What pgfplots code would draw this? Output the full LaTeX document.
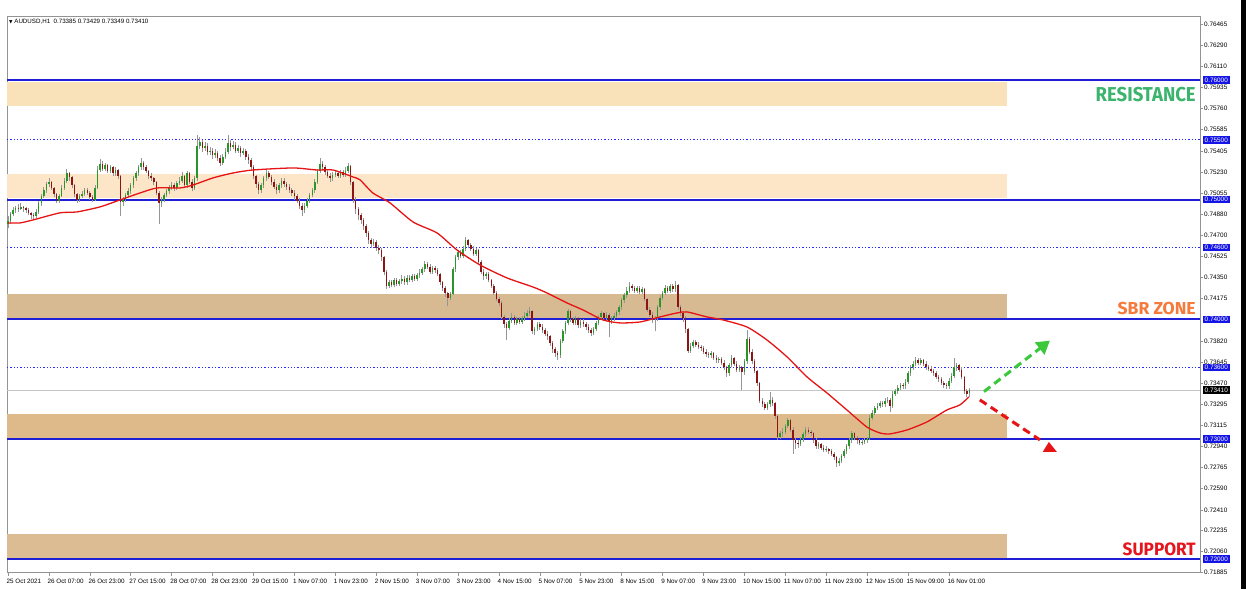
\documentclass[border=0pt]{standalone}
\usepackage{pgfplots}
\pgfplotsset{compat=1.18}
\usepackage{pgfplotstable}
\usepackage{graphicx}
\usepackage{fontspec}
\setmainfont{Liberation Sans}
\newfontfamily\labfont{Fira Sans}
\newfontfamily\symfont{DejaVu Sans}
\usetikzlibrary{arrows.meta}

\definecolor{upc}{RGB}{40,150,40}
\definecolor{dnc}{RGB}{140,20,20}
\definecolor{wick}{RGB}{150,150,150}
\definecolor{zoneA}{RGB}{249,226,186}
\definecolor{zoneB}{RGB}{253,229,199}
\definecolor{zoneC}{RGB}{215,185,146}
\definecolor{zoneD}{RGB}{222,186,139}
\definecolor{zoneE}{RGB}{220,188,147}
\definecolor{lineblue}{RGB}{30,30,215}
\definecolor{dotblue}{RGB}{40,40,255}
\definecolor{boxblue}{RGB}{20,20,230}
\definecolor{resg}{RGB}{60,180,110}
\definecolor{sbro}{RGB}{245,122,60}
\definecolor{supr}{RGB}{230,20,28}
\definecolor{arrg}{RGB}{60,200,60}
\definecolor{arrr}{RGB}{230,20,20}
\definecolor{maline}{RGB}{230,20,20}

\pgfplotstableread{
o h l c
0.7480 0.7486 0.7476 0.7482
0.7482 0.7490 0.7480 0.7488
0.7488 0.7494 0.7486 0.7491
0.7491 0.7495 0.7489 0.7493
0.7493 0.7496 0.7490 0.7492
0.7492 0.7497 0.7491 0.7494
0.7494 0.7495 0.7490 0.7493
0.7493 0.7494 0.7489 0.7491
0.7491 0.7493 0.7487 0.7489
0.7489 0.7490 0.7484 0.7487
0.7487 0.7489 0.7483 0.7486
0.7486 0.7492 0.7485 0.7490
0.7490 0.7499 0.7488 0.7497
0.7497 0.7505 0.7495 0.7503
0.7503 0.7511 0.7501 0.7508
0.7508 0.7515 0.7506 0.7513
0.7513 0.7518 0.7511 0.7515
0.7515 0.7516 0.7508 0.7510
0.7510 0.7511 0.7502 0.7505
0.7505 0.7506 0.7497 0.7499
0.7499 0.7505 0.7497 0.7503
0.7503 0.7512 0.7502 0.7510
0.7510 0.7518 0.7508 0.7516
0.7516 0.7526 0.7514 0.7522
0.7522 0.7523 0.7516 0.7519
0.7519 0.7520 0.7510 0.7512
0.7512 0.7513 0.7502 0.7505
0.7505 0.7506 0.7497 0.7500
0.7500 0.7505 0.7498 0.7503
0.7503 0.7507 0.7501 0.7505
0.7505 0.7510 0.7503 0.7508
0.7508 0.7510 0.7504 0.7506
0.7506 0.7507 0.7500 0.7502
0.7502 0.7504 0.7498 0.7500
0.7500 0.7512 0.7499 0.7510
0.7510 0.7528 0.7509 0.7525
0.7525 0.7534 0.7523 0.7530
0.7530 0.7532 0.7524 0.7526
0.7526 0.7531 0.7524 0.7529
0.7529 0.7530 0.7522 0.7524
0.7524 0.7529 0.7522 0.7527
0.7527 0.7528 0.7520 0.7522
0.7522 0.7527 0.7520 0.7525
0.7525 0.7526 0.7517 0.7520
0.7520 0.7521 0.7486 0.7498
0.7498 0.7502 0.7495 0.7500
0.7500 0.7506 0.7498 0.7504
0.7504 0.7510 0.7502 0.7507
0.7507 0.7514 0.7505 0.7512
0.7512 0.7520 0.7510 0.7518
0.7518 0.7524 0.7516 0.7522
0.7522 0.7529 0.7520 0.7527
0.7527 0.7535 0.7525 0.7531
0.7531 0.7532 0.7525 0.7527
0.7527 0.7529 0.7522 0.7524
0.7524 0.7525 0.7517 0.7520
0.7520 0.7522 0.7516 0.7518
0.7518 0.7519 0.7512 0.7515
0.7515 0.7516 0.7504 0.7506
0.7506 0.7507 0.7480 0.7497
0.7497 0.7502 0.7494 0.7500
0.7500 0.7506 0.7498 0.7504
0.7504 0.7509 0.7502 0.7507
0.7507 0.7512 0.7505 0.7510
0.7510 0.7515 0.7508 0.7512
0.7512 0.7514 0.7507 0.7510
0.7510 0.7516 0.7508 0.7514
0.7514 0.7519 0.7512 0.7516
0.7516 0.7523 0.7514 0.7520
0.7520 0.7521 0.7510 0.7512
0.7512 0.7524 0.7510 0.7522
0.7522 0.7523 0.7513 0.7515
0.7515 0.7517 0.7507 0.7510
0.7510 0.7520 0.7508 0.7518
0.7518 0.7554 0.7516 0.7545
0.7545 0.7552 0.7542 0.7548
0.7548 0.7550 0.7540 0.7543
0.7543 0.7548 0.7541 0.7545
0.7545 0.7547 0.7537 0.7540
0.7540 0.7544 0.7537 0.7541
0.7541 0.7543 0.7534 0.7537
0.7537 0.7542 0.7535 0.7539
0.7539 0.7541 0.7532 0.7535
0.7535 0.7537 0.7528 0.7531
0.7531 0.7538 0.7529 0.7536
0.7536 0.7543 0.7534 0.7540
0.7540 0.7554 0.7538 0.7547
0.7547 0.7550 0.7541 0.7544
0.7544 0.7549 0.7542 0.7546
0.7546 0.7548 0.7539 0.7541
0.7541 0.7546 0.7539 0.7543
0.7543 0.7545 0.7536 0.7539
0.7539 0.7543 0.7537 0.7541
0.7541 0.7542 0.7533 0.7536
0.7536 0.7538 0.7530 0.7533
0.7533 0.7535 0.7524 0.7527
0.7527 0.7529 0.7517 0.7520
0.7520 0.7521 0.7510 0.7513
0.7513 0.7515 0.7505 0.7508
0.7508 0.7514 0.7506 0.7512
0.7512 0.7520 0.7510 0.7518
0.7518 0.7525 0.7516 0.7522
0.7522 0.7524 0.7517 0.7519
0.7519 0.7521 0.7512 0.7515
0.7515 0.7517 0.7509 0.7511
0.7511 0.7513 0.7505 0.7508
0.7508 0.7514 0.7506 0.7512
0.7512 0.7518 0.7510 0.7516
0.7516 0.7518 0.7511 0.7513
0.7513 0.7515 0.7508 0.7511
0.7511 0.7513 0.7506 0.7508
0.7508 0.7510 0.7503 0.7506
0.7506 0.7508 0.7500 0.7503
0.7503 0.7505 0.7497 0.7499
0.7499 0.7501 0.7492 0.7495
0.7495 0.7497 0.7486 0.7491
0.7491 0.7497 0.7489 0.7495
0.7495 0.7501 0.7493 0.7499
0.7499 0.7506 0.7497 0.7504
0.7504 0.7510 0.7502 0.7508
0.7508 0.7517 0.7506 0.7515
0.7515 0.7526 0.7513 0.7524
0.7524 0.7535 0.7522 0.7530
0.7530 0.7532 0.7525 0.7527
0.7527 0.7529 0.7521 0.7523
0.7523 0.7525 0.7518 0.7520
0.7520 0.7522 0.7515 0.7518
0.7518 0.7523 0.7516 0.7521
0.7521 0.7525 0.7519 0.7522
0.7522 0.7524 0.7518 0.7520
0.7520 0.7525 0.7518 0.7523
0.7523 0.7525 0.7519 0.7521
0.7521 0.7527 0.7519 0.7524
0.7524 0.7531 0.7522 0.7528
0.7528 0.7529 0.7512 0.7515
0.7515 0.7516 0.7497 0.7500
0.7500 0.7502 0.7488 0.7492
0.7492 0.7494 0.7483 0.7487
0.7487 0.7489 0.7480 0.7483
0.7483 0.7485 0.7475 0.7478
0.7478 0.7480 0.7469 0.7472
0.7472 0.7474 0.7463 0.7466
0.7466 0.7468 0.7460 0.7463
0.7463 0.7467 0.7461 0.7465
0.7465 0.7466 0.7457 0.7460
0.7460 0.7462 0.7455 0.7458
0.7458 0.7460 0.7449 0.7452
0.7452 0.7453 0.7437 0.7440
0.7440 0.7441 0.7425 0.7428
0.7428 0.7433 0.7426 0.7431
0.7431 0.7433 0.7427 0.7429
0.7429 0.7435 0.7427 0.7433
0.7433 0.7435 0.7428 0.7430
0.7430 0.7434 0.7428 0.7432
0.7432 0.7437 0.7430 0.7434
0.7434 0.7436 0.7429 0.7431
0.7431 0.7437 0.7429 0.7435
0.7435 0.7437 0.7431 0.7433
0.7433 0.7438 0.7431 0.7436
0.7436 0.7438 0.7432 0.7434
0.7434 0.7439 0.7432 0.7437
0.7437 0.7442 0.7435 0.7439
0.7439 0.7444 0.7437 0.7442
0.7442 0.7449 0.7440 0.7446
0.7446 0.7448 0.7442 0.7444
0.7444 0.7446 0.7438 0.7440
0.7440 0.7445 0.7438 0.7443
0.7443 0.7445 0.7439 0.7441
0.7441 0.7443 0.7436 0.7438
0.7438 0.7439 0.7429 0.7431
0.7431 0.7432 0.7424 0.7426
0.7426 0.7428 0.7419 0.7422
0.7422 0.7423 0.7411 0.7418
0.7418 0.7423 0.7416 0.7421
0.7421 0.7444 0.7420 0.7442
0.7442 0.7454 0.7440 0.7452
0.7452 0.7458 0.7450 0.7456
0.7456 0.7458 0.7451 0.7453
0.7453 0.7461 0.7451 0.7459
0.7459 0.7469 0.7457 0.7466
0.7466 0.7467 0.7460 0.7462
0.7462 0.7464 0.7457 0.7459
0.7459 0.7461 0.7453 0.7455
0.7455 0.7460 0.7453 0.7458
0.7458 0.7459 0.7446 0.7448
0.7448 0.7450 0.7438 0.7440
0.7440 0.7442 0.7433 0.7436
0.7436 0.7440 0.7434 0.7438
0.7438 0.7440 0.7431 0.7433
0.7433 0.7434 0.7426 0.7428
0.7428 0.7430 0.7420 0.7422
0.7422 0.7424 0.7415 0.7417
0.7417 0.7419 0.7411 0.7414
0.7414 0.7415 0.7400 0.7402
0.7402 0.7404 0.7393 0.7396
0.7396 0.7398 0.7383 0.7393
0.7393 0.7401 0.7391 0.7399
0.7399 0.7405 0.7397 0.7402
0.7402 0.7404 0.7395 0.7397
0.7397 0.7402 0.7395 0.7400
0.7400 0.7402 0.7396 0.7398
0.7398 0.7403 0.7396 0.7401
0.7401 0.7406 0.7399 0.7403
0.7403 0.7408 0.7401 0.7405
0.7405 0.7410 0.7403 0.7407
0.7407 0.7408 0.7388 0.7390
0.7390 0.7394 0.7387 0.7392
0.7392 0.7398 0.7390 0.7396
0.7396 0.7398 0.7391 0.7394
0.7394 0.7396 0.7389 0.7391
0.7391 0.7393 0.7386 0.7388
0.7388 0.7390 0.7383 0.7386
0.7386 0.7387 0.7378 0.7380
0.7380 0.7382 0.7372 0.7375
0.7375 0.7377 0.7369 0.7372
0.7372 0.7374 0.7366 0.7370
0.7370 0.7384 0.7368 0.7382
0.7382 0.7392 0.7380 0.7390
0.7390 0.7399 0.7388 0.7397
0.7397 0.7409 0.7395 0.7407
0.7407 0.7408 0.7398 0.7400
0.7400 0.7402 0.7395 0.7397
0.7397 0.7403 0.7395 0.7401
0.7401 0.7402 0.7393 0.7395
0.7395 0.7400 0.7393 0.7398
0.7398 0.7400 0.7394 0.7396
0.7396 0.7398 0.7391 0.7394
0.7394 0.7396 0.7389 0.7391
0.7391 0.7393 0.7386 0.7389
0.7389 0.7394 0.7387 0.7392
0.7392 0.7399 0.7390 0.7397
0.7397 0.7404 0.7395 0.7402
0.7402 0.7407 0.7400 0.7405
0.7405 0.7406 0.7399 0.7401
0.7401 0.7406 0.7399 0.7404
0.7404 0.7405 0.7385 0.7398
0.7398 0.7403 0.7396 0.7401
0.7401 0.7405 0.7399 0.7403
0.7403 0.7408 0.7401 0.7406
0.7406 0.7412 0.7404 0.7410
0.7410 0.7418 0.7408 0.7416
0.7416 0.7422 0.7414 0.7420
0.7420 0.7427 0.7418 0.7424
0.7424 0.7431 0.7422 0.7428
0.7428 0.7430 0.7424 0.7426
0.7426 0.7428 0.7422 0.7424
0.7424 0.7428 0.7422 0.7426
0.7426 0.7428 0.7421 0.7423
0.7423 0.7427 0.7421 0.7425
0.7425 0.7426 0.7415 0.7417
0.7417 0.7418 0.7406 0.7408
0.7408 0.7410 0.7402 0.7404
0.7404 0.7406 0.7397 0.7400
0.7400 0.7403 0.7390 0.7401
0.7401 0.7412 0.7399 0.7410
0.7410 0.7420 0.7408 0.7418
0.7418 0.7424 0.7416 0.7422
0.7422 0.7429 0.7420 0.7426
0.7426 0.7428 0.7422 0.7424
0.7424 0.7430 0.7422 0.7428
0.7428 0.7430 0.7423 0.7425
0.7425 0.7432 0.7423 0.7429
0.7429 0.7430 0.7408 0.7410
0.7410 0.7412 0.7403 0.7405
0.7405 0.7407 0.7398 0.7401
0.7401 0.7403 0.7389 0.7392
0.7392 0.7393 0.7372 0.7374
0.7374 0.7380 0.7372 0.7378
0.7378 0.7383 0.7376 0.7381
0.7381 0.7383 0.7377 0.7379
0.7379 0.7381 0.7375 0.7377
0.7377 0.7379 0.7374 0.7376
0.7376 0.7378 0.7371 0.7373
0.7373 0.7375 0.7369 0.7371
0.7371 0.7373 0.7368 0.7370
0.7370 0.7374 0.7368 0.7372
0.7372 0.7373 0.7366 0.7368
0.7368 0.7370 0.7364 0.7366
0.7366 0.7369 0.7364 0.7367
0.7367 0.7369 0.7362 0.7364
0.7364 0.7366 0.7358 0.7360
0.7360 0.7361 0.7352 0.7355
0.7355 0.7364 0.7353 0.7362
0.7362 0.7370 0.7360 0.7368
0.7368 0.7369 0.7361 0.7363
0.7363 0.7365 0.7356 0.7358
0.7358 0.7362 0.7356 0.7360
0.7360 0.7361 0.7341 0.7356
0.7356 0.7367 0.7354 0.7365
0.7365 0.7391 0.7363 0.7384
0.7384 0.7385 0.7371 0.7373
0.7373 0.7375 0.7363 0.7365
0.7365 0.7367 0.7355 0.7357
0.7357 0.7358 0.7344 0.7347
0.7347 0.7348 0.7330 0.7332
0.7332 0.7334 0.7327 0.7329
0.7329 0.7331 0.7324 0.7326
0.7326 0.7331 0.7324 0.7329
0.7329 0.7339 0.7327 0.7333
0.7333 0.7335 0.7328 0.7330
0.7330 0.7331 0.7317 0.7319
0.7319 0.7320 0.7299 0.7302
0.7302 0.7307 0.7300 0.7305
0.7305 0.7309 0.7302 0.7306
0.7306 0.7313 0.7304 0.7311
0.7311 0.7318 0.7309 0.7316
0.7316 0.7317 0.7306 0.7308
0.7308 0.7310 0.7288 0.7299
0.7299 0.7301 0.7292 0.7297
0.7297 0.7299 0.7293 0.7296
0.7296 0.7302 0.7294 0.7300
0.7300 0.7306 0.7298 0.7304
0.7304 0.7310 0.7302 0.7308
0.7308 0.7310 0.7304 0.7306
0.7306 0.7308 0.7303 0.7305
0.7305 0.7306 0.7297 0.7299
0.7299 0.7301 0.7292 0.7294
0.7294 0.7298 0.7292 0.7296
0.7296 0.7297 0.7291 0.7293
0.7293 0.7295 0.7289 0.7291
0.7291 0.7294 0.7289 0.7292
0.7292 0.7293 0.7288 0.7290
0.7290 0.7292 0.7286 0.7288
0.7288 0.7289 0.7283 0.7285
0.7285 0.7286 0.7277 0.7280
0.7280 0.7284 0.7278 0.7282
0.7282 0.7288 0.7280 0.7286
0.7286 0.7292 0.7284 0.7290
0.7290 0.7296 0.7288 0.7294
0.7294 0.7301 0.7292 0.7299
0.7299 0.7307 0.7297 0.7305
0.7305 0.7306 0.7299 0.7301
0.7301 0.7303 0.7296 0.7299
0.7299 0.7300 0.7295 0.7297
0.7297 0.7300 0.7295 0.7298
0.7298 0.7301 0.7296 0.7299
0.7299 0.7302 0.7297 0.7300
0.7300 0.7320 0.7299 0.7318
0.7318 0.7324 0.7316 0.7322
0.7322 0.7328 0.7320 0.7326
0.7326 0.7330 0.7324 0.7328
0.7328 0.7332 0.7326 0.7330
0.7330 0.7332 0.7327 0.7329
0.7329 0.7334 0.7327 0.7332
0.7332 0.7335 0.7330 0.7333
0.7333 0.7334 0.7323 0.7328
0.7328 0.7340 0.7326 0.7338
0.7338 0.7342 0.7336 0.7340
0.7340 0.7345 0.7338 0.7343
0.7343 0.7347 0.7341 0.7345
0.7345 0.7347 0.7342 0.7344
0.7344 0.7350 0.7342 0.7348
0.7348 0.7357 0.7346 0.7355
0.7355 0.7362 0.7353 0.7360
0.7360 0.7365 0.7358 0.7363
0.7363 0.7369 0.7361 0.7366
0.7366 0.7368 0.7362 0.7364
0.7364 0.7368 0.7362 0.7366
0.7366 0.7367 0.7361 0.7363
0.7363 0.7365 0.7358 0.7360
0.7360 0.7362 0.7357 0.7359
0.7359 0.7361 0.7355 0.7357
0.7357 0.7359 0.7353 0.7355
0.7355 0.7357 0.7350 0.7352
0.7352 0.7354 0.7348 0.7350
0.7350 0.7352 0.7345 0.7347
0.7347 0.7349 0.7343 0.7345
0.7345 0.7347 0.7342 0.7344
0.7344 0.7351 0.7342 0.7349
0.7349 0.7355 0.7347 0.7353
0.7353 0.7368 0.7351 0.7360
0.7360 0.7364 0.7357 0.7362
0.7362 0.7363 0.7356 0.7358
0.7358 0.7360 0.7350 0.7352
0.7352 0.7353 0.7338 0.7340
0.7340 0.7342 0.7335 0.7338
0.73385 0.73429 0.73349 0.73410
}\candles

\newcommand{\tickfont}{\fontsize{6.4}{7}\selectfont}
\newcommand{\xtickfont}{\fontsize{6.3}{7}\selectfont}
\tikzset{pbox/.style={fill=boxblue, text=white, anchor=west, inner sep=0pt, minimum width=27pt, minimum height=7.5pt, font=\tickfont}}

\begin{document}
\begin{tikzpicture}[x=1pt,y=1pt]
\useasboundingbox (0,0) rectangle (1246,589);
\fill[white] (0,0) rectangle (1246,589);
\fill[black] (1241,0) rectangle (1246,589);
\begin{axis}[
  at={(7pt,16.3pt)}, anchor=south west,
  scale only axis, width=1193pt, height=556.7pt,
  xmin=-0.4, xmax=466.2, ymin=0.71885, ymax=0.76534,
  clip mode=individual,
  axis line style={draw=gray!85, line width=0.8pt},
  xtick pos=bottom, ytick pos=right, yticklabel pos=right,
  tick align=outside, major tick length=3pt,
  tick style={draw=gray!85, line width=0.6pt},
  xtick={0,16,...,368},
  xticklabels={25 Oct 2021,26 Oct 07:00,26 Oct 23:00,27 Oct 15:00,28 Oct 07:00,28 Oct 23:00,29 Oct 15:00,1 Nov 07:00,1 Nov 23:00,2 Nov 15:00,3 Nov 07:00,3 Nov 23:00,4 Nov 15:00,5 Nov 07:00,5 Nov 23:00,8 Nov 15:00,9 Nov 07:00,9 Nov 23:00,10 Nov 15:00,11 Nov 07:00,11 Nov 23:00,12 Nov 15:00,15 Nov 09:00,16 Nov 01:00},
  x tick label style={anchor=north west, font=\xtickfont, inner sep=0pt, xshift=-1.5pt, yshift=-3pt},
  ytick={0.71885,0.72060,0.72235,0.72410,0.72590,0.72765,0.72940,0.73115,0.73295,0.73470,0.73645,0.73820,0.74175,0.74350,0.74525,0.74700,0.74880,0.75055,0.75230,0.75405,0.75585,0.75760,0.75935,0.76110,0.76290,0.76465},
  yticklabels={0.71885,0.72060,0.72235,0.72410,0.72590,0.72765,0.72940,0.73115,0.73295,0.73470,0.73645,0.73820,0.74175,0.74350,0.74525,0.74700,0.74880,0.75055,0.75230,0.75405,0.75585,0.75760,0.75935,0.76110,0.76290,0.76465},
  y tick label style={anchor=west, font=\tickfont, inner sep=0pt, xshift=1pt},
  colormap={updown}{color=(dnc) color=(upc)},
]
% zones
\fill[zoneA] (axis cs:-0.4,0.75983) rectangle (axis cs:390.7,0.75783);
\fill[zoneB] (axis cs:-0.4,0.75215) rectangle (axis cs:390.7,0.75017);
\fill[zoneC] (axis cs:-0.4,0.74213) rectangle (axis cs:390.7,0.74008);
\fill[zoneD] (axis cs:-0.4,0.73209) rectangle (axis cs:390.7,0.73008);
\fill[zoneE] (axis cs:-0.4,0.72209) rectangle (axis cs:390.7,0.72008);

% level lines
\addplot[lineblue, line width=2pt, no markers, forget plot] coordinates {(-0.4,0.76) (466.2,0.76)};
\addplot[lineblue, line width=2pt, no markers, forget plot] coordinates {(-0.4,0.75) (466.2,0.75)};
\addplot[lineblue, line width=2pt, no markers, forget plot] coordinates {(-0.4,0.74) (466.2,0.74)};
\addplot[lineblue, line width=2pt, no markers, forget plot] coordinates {(-0.4,0.73) (466.2,0.73)};
\addplot[lineblue, line width=2pt, no markers, forget plot] coordinates {(-0.4,0.72) (466.2,0.72)};
\addplot[dotblue, line width=1.3pt, dash pattern=on 1.3pt off 2pt, no markers, forget plot] coordinates {(-0.4,0.755) (466.2,0.755)};
\addplot[dotblue, line width=1.3pt, dash pattern=on 1.3pt off 2pt, no markers, forget plot] coordinates {(-0.4,0.746) (466.2,0.746)};
\addplot[dotblue, line width=1.3pt, dash pattern=on 1.3pt off 2pt, no markers, forget plot] coordinates {(-0.4,0.736) (466.2,0.736)};
\addplot[gray!45, line width=1pt, no markers, forget plot] coordinates {(-0.4,0.73410) (466.2,0.73410)};

% wicks
\addplot[wick, line width=0.7pt, no markers, forget plot,
  quiver={u=0, v=\thisrow{h}-\thisrow{l}}]
  table[x expr=\coordindex, y=l] {\candles};
% bodies (colour from sign of close-open)
\addplot[line width=1.5pt, no markers, forget plot,
  point meta=explicit, point meta min=0, point meta max=1,
  quiver={u=0, v=\thisrow{c}-\thisrow{o}, colored=mapped color}]
  table[x expr=\coordindex, y=o, meta expr={\thisrow{c}>=\thisrow{o}}] {\candles};

% moving average
\addplot[maline, line width=1.3pt, smooth, tension=0.4, no markers, forget plot] coordinates {
(0,0.74806) (4.7,0.74806) (9.8,0.74831) (20.3,0.74890) (27,0.74898) (36,0.74940)
(43.8,0.74998) (51.6,0.75056) (58.3,0.75098) (67.3,0.75098) (72.4,0.75123)
(80.2,0.75182) (88,0.75223) (95.8,0.75248) (111.5,0.75265) (120.8,0.75248)
(127.1,0.75248) (134.9,0.75190) (137.7,0.75165) (142.7,0.75056) (149.4,0.74973)
(158.4,0.74814) (167.8,0.74722) (175.6,0.74580) (184.6,0.74455) (195.1,0.74347)
(205.3,0.74271) (210.8,0.74221) (218.6,0.74138) (224.9,0.74079) (232.7,0.73996)
(239.3,0.73971) (247.2,0.73979) (255,0.74021) (261.6,0.74054) (265.5,0.74063)
(273.4,0.74021) (279.6,0.73996) (289,0.73937) (296.8,0.73829) (304.7,0.73687)
(312.5,0.73520) (320.3,0.73386) (328.1,0.73244) (335.9,0.73102) (341,0.73052)
(344.9,0.73044) (351.6,0.73077) (359.4,0.73144) (367.2,0.73244) (372.3,0.73286)
(375.8,0.73353)
};

% arrows
\draw[arrg, line width=3pt, dash pattern=on 8pt off 5pt, -{Triangle[length=13pt,width=15pt]}]
  (axis cs:381.7,0.73397) -- (axis cs:407.5,0.73823);
\draw[arrr, line width=3pt, dash pattern=on 8pt off 5pt]
  (axis cs:380.1,0.73328) -- (axis cs:403.6,0.72994);
\fill[arrr] (axis cs:407.1,0.72977) -- (axis cs:404.7,0.72894) -- (axis cs:410.2,0.72894) -- cycle;

% zone labels
\node[anchor=base east, inner sep=0pt, text=resg] at (axis cs:464.6,0.75816)
  {\resizebox{100pt}{14.3pt}{\labfont\bfseries RESISTANCE}};
\node[anchor=base east, inner sep=0pt, text=sbro] at (axis cs:464.6,0.74038)
  {\resizebox{78pt}{12.3pt}{\labfont\bfseries SBR ZONE}};
\node[anchor=base east, inner sep=0pt, text=supr] at (axis cs:464.6,0.72025)
  {\resizebox{73pt}{12.7pt}{\labfont\bfseries SUPPORT}};

% price boxes on the right
\node[pbox] at (axis cs:467.2,0.76) {0.76000};
\node[pbox] at (axis cs:467.2,0.755) {0.75500};
\node[pbox] at (axis cs:467.2,0.75) {0.75000};
\node[pbox] at (axis cs:467.2,0.746) {0.74600};
\node[pbox] at (axis cs:467.2,0.74) {0.74000};
\node[pbox] at (axis cs:467.2,0.736) {0.73600};
\node[pbox] at (axis cs:467.2,0.73) {0.73000};
\node[pbox] at (axis cs:467.2,0.72) {0.72000};
\node[pbox, fill=black] at (axis cs:467.2,0.73410) {0.73410};

% title
\node[anchor=north west, inner sep=0pt, font=\fontsize{6.2}{7}\selectfont] at (rel axis cs:0,1) [xshift=2pt, yshift=-3pt]
  {{\symfont\fontsize{4.5}{5}\selectfont ▼}\ AUDUSD,H1\ \ 0.73385 0.73429 0.73349 0.73410};
\end{axis}
\end{tikzpicture}
\end{document}
